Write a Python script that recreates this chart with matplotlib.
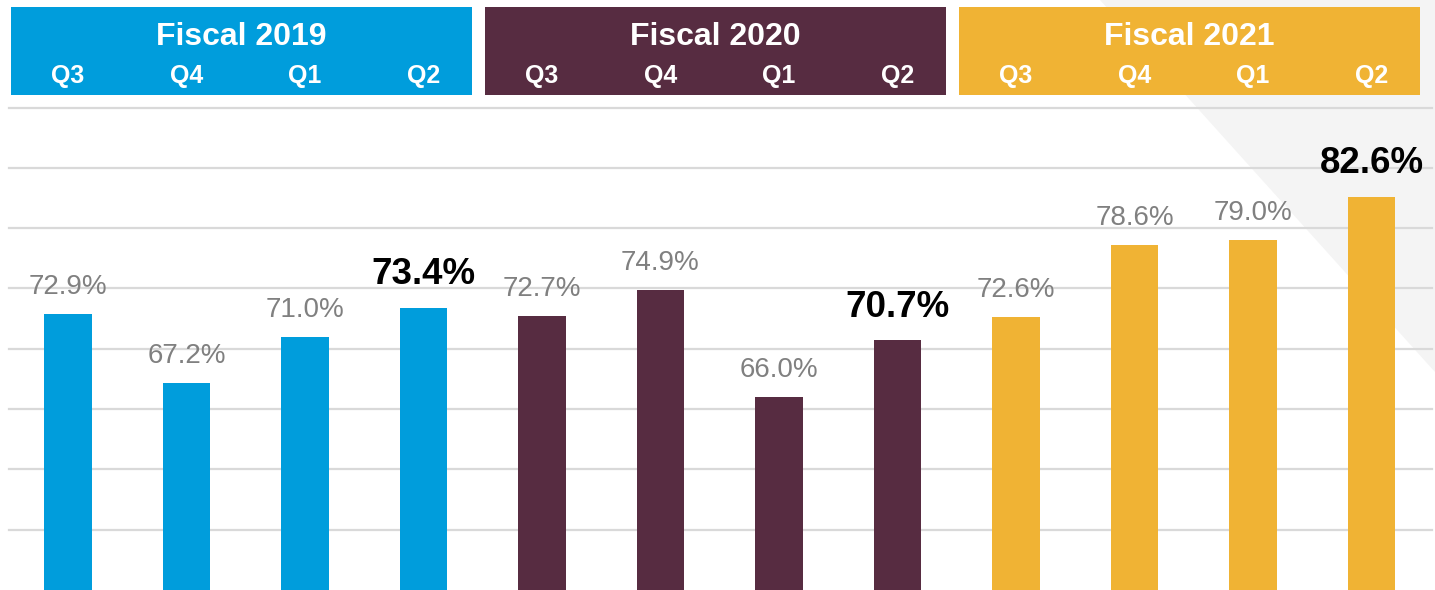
import numpy as np
import matplotlib
matplotlib.use("Agg")
import matplotlib.pyplot as plt
from matplotlib.patches import Rectangle, Polygon

# data
years = ["Fiscal 2019", "Fiscal 2020", "Fiscal 2021"]
quarters = ["Q3", "Q4", "Q1", "Q2"]
values = [72.9, 67.2, 71.0, 73.4, 72.7, 74.9, 66.0, 70.7, 72.6, 78.6, 79.0, 82.6]
highlight = [False, False, False, True, False, False, False, True, False, False, False, True]
year_colors = ["#009DDC", "#572C41", "#F0B334"]

plt.rcParams["font.family"] = ["Liberation Sans", "DejaVu Sans"]

W, H = 1435, 590
fig = plt.figure(figsize=(W / 100, H / 100), dpi=100)
ax = fig.add_axes([0, 0, 1, 1])

x = np.arange(len(values))
bar_colors = [year_colors[i // 4] for i in x]

# 68 px first bar centre, 118.5 px pitch
ax.set_xlim(-68 / 118.5, (W - 68) / 118.5)
ax.set_ylim(50, 50 + H / 12.06)
ax.axis("off")

# light gray triangle at top right
tri = Polygon([(1100 / W, 1.0), (1.0, 1.0), (1.0, 1 - 372 / H)], closed=True,
              transform=ax.transAxes, facecolor="#F4F4F4", edgecolor="none", zorder=0)
ax.add_patch(tri)

# gridlines
for g in range(55, 95, 5):
    ax.axhline(g, xmin=9 / W, xmax=1432 / W, color="#D9D9D9", lw=1.6, zorder=1)

ax.bar(x, values, width=0.4, color=bar_colors, zorder=2)

for xi, v, hl in zip(x, values, highlight):
    if hl:
        ax.annotate(f"{v:.1f}%", (xi, v), xytext=(0, 33), textcoords="offset pixels",
                    ha="center", va="center", fontsize=26.5, fontweight="bold",
                    color="black", zorder=3)
    else:
        ax.annotate(f"{v:.1f}%", (xi, v), xytext=(0, 27), textcoords="offset pixels",
                    ha="center", va="center", fontsize=20, color="#808080", zorder=3)

# header boxes
tr = ax.get_xaxis_transform()
for k, (yr, col) in enumerate(zip(years, year_colors)):
    first, last = 4 * k, 4 * k + 3
    left = first - 0.48
    right = last + 0.41
    ax.add_patch(Rectangle((left, 1 - 95 / H), right - left, 88 / H, transform=tr,
                           facecolor=col, edgecolor="none", zorder=4, clip_on=False))
    ax.text((left + right) / 2, 1 - 37 / H, yr, transform=tr, ha="center", va="center",
            fontsize=23, fontweight="bold", color="white", zorder=5)
    for j, q in enumerate(quarters):
        ax.text(first + j, 1 - 76 / H, q, transform=tr, ha="center", va="center",
                fontsize=18, fontweight="bold", color="white", zorder=5)

fig.savefig("out.png", dpi=100)
